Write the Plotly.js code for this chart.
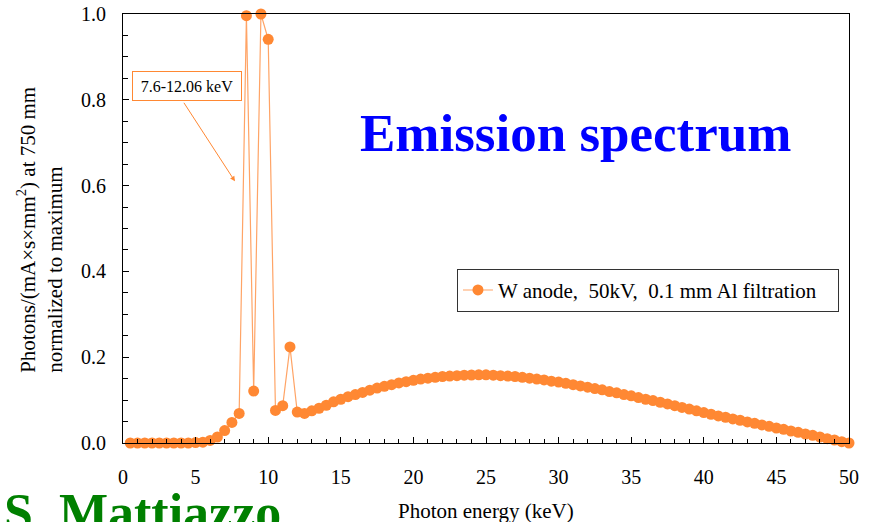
<!DOCTYPE html>
<html>
<head>
<meta charset="utf-8">
<script src="https://cdn.plot.ly/plotly-3.0.1.min.js"></script>
<style>
    html, body {margin: 0; padding: 0; background: #ffffff;}
    #plot {width: 870px; height: 522px;}
</style>
</head>
<body>
<div id="plot"></div>
<script>
// photon energy grid (keV)
const energyKeV = [
    0.5, 1.0, 1.5, 2.0, 2.5, 3.0, 3.5, 4.0, 4.5, 5.0,
    5.5, 6.0, 6.5, 7.0, 7.5, 8.0, 8.5, 9.0, 9.5, 10.0,
    10.5, 11.0, 11.5, 12.0, 12.5, 13.0, 13.5, 14.0, 14.5, 15.0,
    15.5, 16.0, 16.5, 17.0, 17.5, 18.0, 18.5, 19.0, 19.5, 20.0,
    20.5, 21.0, 21.5, 22.0, 22.5, 23.0, 23.5, 24.0, 24.5, 25.0,
    25.5, 26.0, 26.5, 27.0, 27.5, 28.0, 28.5, 29.0, 29.5, 30.0,
    30.5, 31.0, 31.5, 32.0, 32.5, 33.0, 33.5, 34.0, 34.5, 35.0,
    35.5, 36.0, 36.5, 37.0, 37.5, 38.0, 38.5, 39.0, 39.5, 40.0,
    40.5, 41.0, 41.5, 42.0, 42.5, 43.0, 43.5, 44.0, 44.5, 45.0,
    45.5, 46.0, 46.5, 47.0, 47.5, 48.0, 48.5, 49.0, 49.5, 50.0,
];

// photons normalized to maximum
const photonsNorm = [
    0, 0, 0, 0, 0, 0, 0, 0, 0, 0.001,
    0.002, 0.006, 0.014, 0.029, 0.048, 0.069, 0.996, 0.121, 1.0, 0.941,
    0.076, 0.087, 0.224, 0.072, 0.069, 0.075, 0.081, 0.088, 0.096, 0.102,
    0.108, 0.113, 0.118, 0.123, 0.128, 0.132, 0.136, 0.140, 0.143, 0.146,
    0.149, 0.151, 0.153, 0.155, 0.156, 0.157, 0.158, 0.1585, 0.159, 0.159,
    0.158, 0.157, 0.156, 0.155, 0.153, 0.151, 0.149, 0.147, 0.144, 0.142,
    0.139, 0.136, 0.133, 0.130, 0.127, 0.124, 0.120, 0.117, 0.113, 0.110,
    0.106, 0.102, 0.099, 0.095, 0.091, 0.087, 0.083, 0.079, 0.075, 0.071,
    0.067, 0.063, 0.060, 0.056, 0.053, 0.049, 0.046, 0.042, 0.039, 0.035,
    0.032, 0.028, 0.025, 0.021, 0.018, 0.014, 0.010, 0.007, 0.003, 0.000,
];

const xTickVals = [0, 5, 10, 15, 20, 25, 30, 35, 40, 45, 50];
const yTickVals = [0, 0.2, 0.4, 0.6, 0.8, 1.0];

const serif = 'Liberation Serif, Times New Roman, serif';

const spectrum = {
    x: energyKeV,
    y: photonsNorm,
    name: 'W anode,\u00a0\u00a050kV,\u00a0\u00a00.1 mm Al filtration\u00a0\u00a0\u00a0',
    type: 'scatter',
    mode: 'lines+markers',
    cliponaxis: false,
    line: {
        color: '#ffa466',
        width: 1.2,
    },
    marker: {
        color: '#ff8833',
        size: 11,
    },
};

const layout = {
    width: 870,
    height: 522,
    showlegend: true,
    legend: {
        x: 0.46,
        y: 0.406,
        xanchor: 'left',
        yanchor: 'top',
        bgcolor: '#ffffff',
        bordercolor: '#333333',
        borderwidth: 1,
        font: {family: serif, size: 21, color: '#000000'},
    },
    xaxis: {
        range: [0, 50],
        tickvals: xTickVals,
        ticks: 'inside',
        ticklen: 6,
        tickcolor: '#000000',
        ticklabelstandoff: 16,
        minor: {dtick: 1, ticks: 'inside', ticklen: 4, tickcolor: '#000000'},
        showline: true,
        linecolor: '#000000',
        linewidth: 1,
        mirror: true,
        showgrid: false,
        zeroline: false,
        tickfont: {family: serif, size: 20, color: '#000000'},
    },
    yaxis: {
        range: [0, 1.0],
        tickvals: yTickVals,
        tickformat: '.1f',
        ticks: 'inside',
        ticklen: 6,
        tickcolor: '#000000',
        ticklabelstandoff: 12,
        minor: {dtick: 0.05, ticks: 'inside', ticklen: 5, tickcolor: '#000000'},
        showline: true,
        linecolor: '#000000',
        linewidth: 1,
        mirror: true,
        showgrid: false,
        zeroline: false,
        tickfont: {family: serif, size: 20, color: '#000000'},
    },
    annotations: [
        {   // big title
            text: '<b>Emission spectrum</b>',
            xref: 'paper', yref: 'paper',
            x: 0.6226, y: 0.7237,
            xanchor: 'center', yanchor: 'middle',
            showarrow: false,
            font: {family: serif, size: 53, color: '#0000ff'},
        },
        {   // author
            text: '<b>S. Mattiazzo</b>',
            xref: 'paper', yref: 'paper',
            x: -0.1667, y: -0.162,
            xanchor: 'left', yanchor: 'middle',
            showarrow: false,
            font: {family: serif, size: 52, color: '#008000'},
        },
        {   // x title
            text: 'Photon energy (keV)',
            xref: 'paper', yref: 'paper',
            x: 0.5, y: -0.158,
            xanchor: 'center', yanchor: 'middle',
            showarrow: false,
            font: {family: serif, size: 21, color: '#000000'},
        },
        {   // y title
            text: 'Photons/(mA\u00d7s\u00d7mm<sup>2</sup>) at 750 mm<br>normalized to maximum',
            xref: 'paper', yref: 'paper',
            x: -0.1143, y: 0.497,
            xanchor: 'center', yanchor: 'middle',
            textangle: -90,
            align: 'left',
            showarrow: false,
            font: {family: serif, size: 21, color: '#000000'},
        },
        {   // energy range label box
            text: '7.6-12.06 keV',
            xref: 'paper', yref: 'paper',
            x: 0.0881, y: 0.833,
            xanchor: 'center', yanchor: 'middle',
            showarrow: false,
            bgcolor: '#ffffff',
            bordercolor: '#ff8833',
            borderwidth: 1,
            borderpad: 4,
            width: 100,
            height: 20,
            font: {family: serif, size: 16, color: '#000000'},
        },
        {   // arrow to the lines
            text: '',
            x: 7.71, y: 0.61,
            xref: 'x', yref: 'y',
            ax: -52, ay: -80,
            showarrow: true,
            arrowhead: 2,
            arrowsize: 1,
            arrowwidth: 1,
            arrowcolor: '#ff8833',
        },
    ],
    plot_bgcolor: '#ffffff',
    paper_bgcolor: '#ffffff',
    margin: {l: 123, r: 21, t: 14, b: 79, pad: 0},
    hovermode: 'closest',
};

Plotly.newPlot('plot', [spectrum], layout, {
    displayModeBar: false,
    displaylogo: false,
    responsive: false,
});
</script>
</body>
</html>
